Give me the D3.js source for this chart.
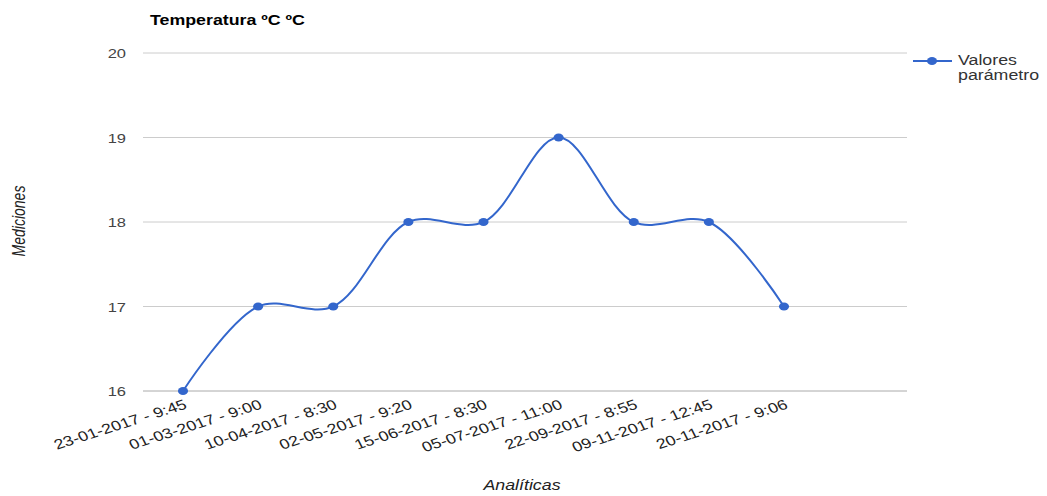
<!DOCTYPE html>
<html><head><meta charset="utf-8">
<script src="https://cdn.jsdelivr.net/npm/d3@7"></script>
<style>body{margin:0;background:#fff;} text{font-family:"Liberation Sans",Arial,sans-serif;}</style>
</head><body>
<svg id="c" width="1047" height="496"></svg>
<script>
const categories = ["23-01-2017 - 9:45","01-03-2017 - 9:00","10-04-2017 - 8:30","02-05-2017 - 9:20","15-06-2017 - 8:30","05-07-2017 - 11:00","22-09-2017 - 8:55","09-11-2017 - 12:45","20-11-2017 - 9:06"];
const values = [16,17,17,18,18,19,18,18,17];
const yTicks = [16,17,18,19,20];
const seriesName = ["Valores","parámetro"];

const SX = 1.27; // horizontal stretch of the reference picture
const svg = d3.select("#c");
const x = d3.scalePoint().domain(categories).range([183, 784]);
const y = d3.scaleLinear().domain([16,20]).range([391, 53]);
const plotL = 143, plotR = 907;

// gridlines
svg.append("g").selectAll("line").data(yTicks).join("line")
  .attr("x1", plotL).attr("x2", plotR)
  .attr("y1", d=>y(d)).attr("y2", d=>y(d))
  .attr("stroke", d=> d===16 ? "#aaa" : "#ccc").attr("stroke-width",1);
svg.append("g").selectAll("text").data(yTicks).join("text")
  .attr("transform", d=>`translate(126,${y(d)+5}) scale(${SX},1)`).attr("text-anchor","end")
  .attr("font-size",13).attr("fill","#444").text(d=>d);

// x labels
svg.append("g").selectAll("text").data(categories).join("text")
  .attr("transform", d=>`translate(${x(d)+5},${y(16)+17}) scale(${SX},1) rotate(-22)`)
  .attr("text-anchor","end").attr("font-size",14).attr("fill","#222").text(d=>d);

// line
const line = d3.line().x((d,i)=>x(categories[i])).y(d=>y(d)).curve(d3.curveCatmullRom.alpha(0.5));
svg.append("path").datum(values).attr("d", line).attr("fill","none").attr("stroke","#3366cc").attr("stroke-width",2);
svg.append("g").selectAll("ellipse").data(values).join("ellipse")
  .attr("cx",(d,i)=>x(categories[i])).attr("cy",d=>y(d)).attr("rx",4*SX).attr("ry",4).attr("fill","#3366cc");

// title
svg.append("text").attr("transform",`translate(150,25) scale(${SX},1)`).attr("font-size",14).attr("font-weight","bold").attr("fill","#000").text("Temperatura ºC ºC");
// axis titles
svg.append("text").attr("transform",`translate(25,221) scale(${SX},1) rotate(-90)`).attr("text-anchor","middle")
  .attr("font-size",14).attr("font-style","italic").attr("fill","#222").text("Mediciones");
svg.append("text").attr("transform",`translate(522,490) scale(${SX},1)`).attr("text-anchor","middle")
  .attr("font-size",14).attr("font-style","italic").attr("fill","#222").text("Analíticas");

// legend
svg.append("line").attr("x1",913).attr("x2",952).attr("y1",61).attr("y2",61).attr("stroke","#3366cc").attr("stroke-width",2);
svg.append("ellipse").attr("cx",932).attr("cy",61).attr("rx",4*SX).attr("ry",4).attr("fill","#3366cc");
svg.append("g").selectAll("text").data(seriesName).join("text")
  .attr("transform",(d,i)=>`translate(958,${65+i*15}) scale(${SX},1)`).attr("font-size",14).attr("fill","#333").text(d=>d);
</script>
</body></html>
